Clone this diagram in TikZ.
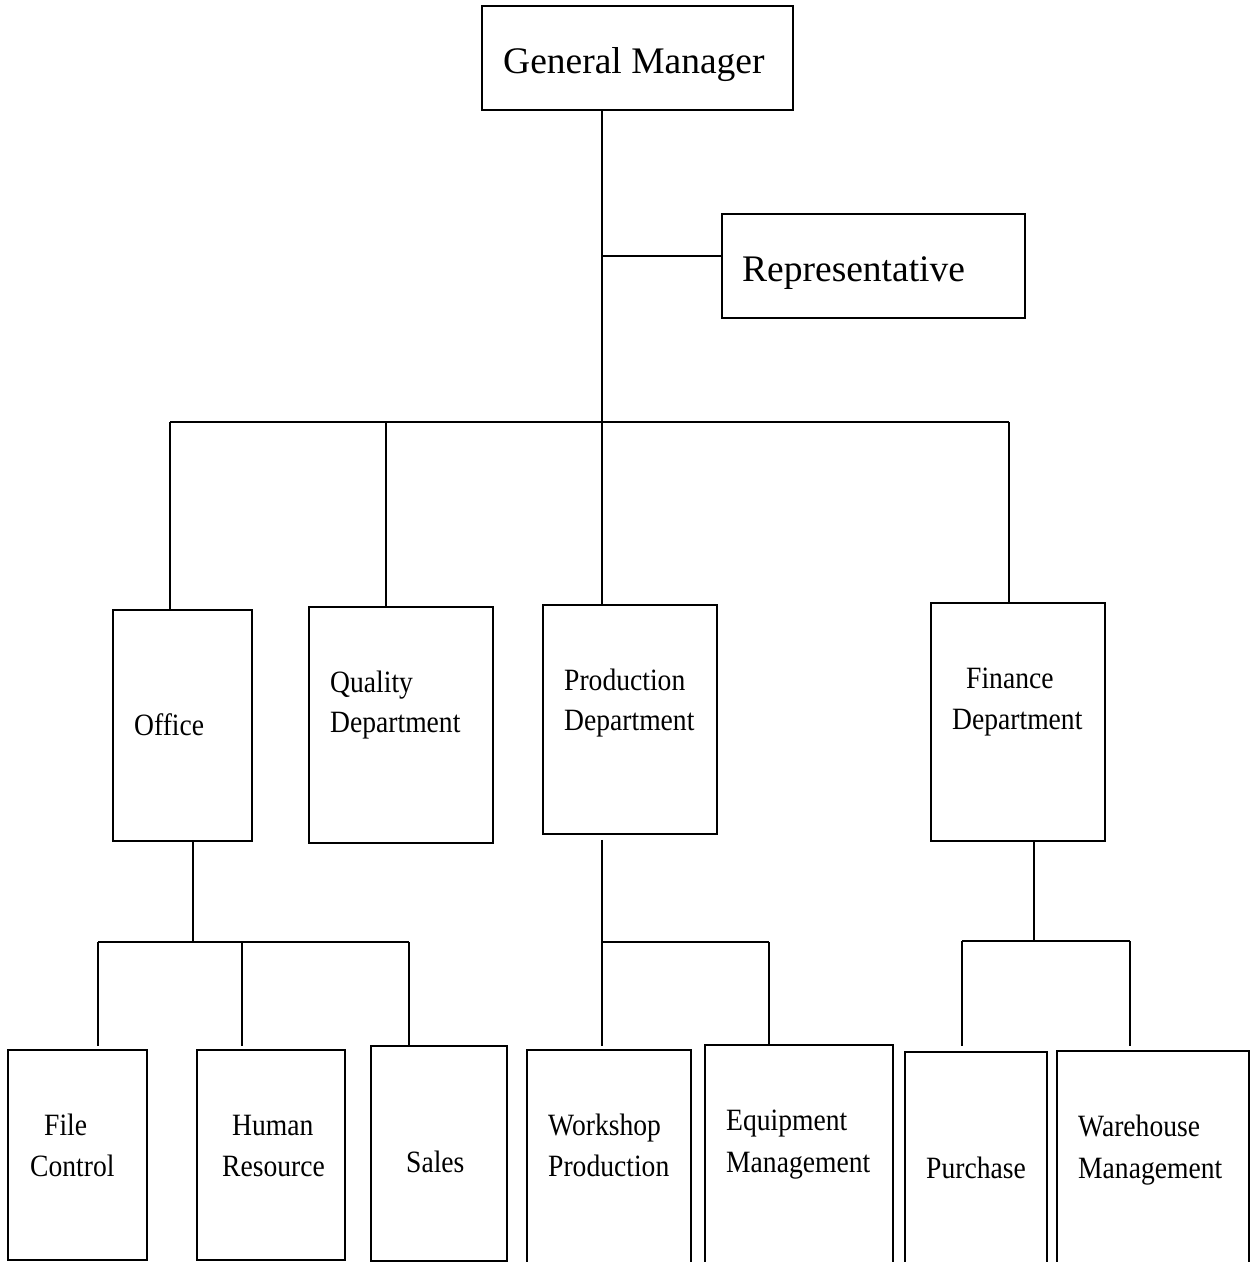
\documentclass[tikz,border=0pt]{standalone}
\usepackage{fontspec}
\setmainfont{Liberation Serif}
\newfontfamily\labfont{Liberation Serif}[FakeStretch=0.89]
\begin{document}
\begin{tikzpicture}[x=1pt,y=-1pt,
  box/.style={draw, line width=1.8pt, rectangle, inner sep=0pt},
  conn/.style={line width=1.8pt},
  bigtxt/.style={inner sep=0pt, anchor=base west, font=\fontsize{37.5}{45}\selectfont},
  lbl/.style={inner sep=0pt, anchor=base west, font=\labfont\fontsize{31}{40}\selectfont}]
\useasboundingbox (0,0) rectangle (1251,1262);
% boxes
\node[box, minimum width=311pt, minimum height=104pt] (gm) at (637.5,58) {};
\node[box, minimum width=303pt, minimum height=104pt] (rep) at (873.5,266) {};
\node[box, minimum width=139pt, minimum height=231pt] (office) at (182.5,725.5) {};
\node[box, minimum width=184pt, minimum height=236pt] (quality) at (401,725) {};
\node[box, minimum width=174pt, minimum height=229pt] (prod) at (630,719.5) {};
\node[box, minimum width=174pt, minimum height=238pt] (fin) at (1018,722) {};
\node[box, minimum width=139pt, minimum height=210pt] (file) at (77.5,1155) {};
\node[box, minimum width=148pt, minimum height=210pt] (human) at (271,1155) {};
\node[box, minimum width=136pt, minimum height=215pt] (sales) at (439,1153.5) {};
\node[box, minimum width=164pt, minimum height=218pt] (work) at (609,1159) {};
\node[box, minimum width=188pt, minimum height=223pt] (equip) at (799,1156.5) {};
\node[box, minimum width=142pt, minimum height=216pt] (purch) at (976,1160) {};
\node[box, minimum width=192pt, minimum height=217pt] (ware) at (1153,1159.5) {};
% texts
\node[bigtxt] (gmT) at (503,73) {General Manager};
\node[bigtxt] (repT) at (742,281) {Representative};
\node[lbl] (officeT) at (134,735) {Office};
\node[lbl] (qualT1) at (330,692) {Quality};
\node[lbl] (qualT2) at (330,732) {Department};
\node[lbl] (prodT1) at (564,690) {Production};
\node[lbl] (prodT2) at (564,730) {Department};
\node[lbl] (finT1) at (966,688) {Finance};
\node[lbl] (finT2) at (952,729) {Department};
\node[lbl] (fileT1) at (44,1135) {File};
\node[lbl] (fileT2) at (30,1176) {Control};
\node[lbl] (humT1) at (232,1135) {Human};
\node[lbl] (humT2) at (222,1176) {Resource};
\node[lbl] (salesT) at (406,1172) {Sales};
\node[lbl] (workT1) at (548,1135) {Workshop};
\node[lbl] (workT2) at (548,1176) {Production};
\node[lbl] (equipT1) at (726,1130) {Equipment};
\node[lbl] (equipT2) at (726,1172) {Management};
\node[lbl] (purchT) at (926,1178) {Purchase};
\node[lbl] (wareT1) at (1078,1136) {Warehouse};
\node[lbl] (wareT2) at (1078,1178) {Management};
% junctions
\coordinate (t) at (602,422);
\coordinate (j1) at (602,256);
\coordinate (b1) at (170,422);
\coordinate (b2) at (386,422);
\coordinate (b4) at (1009,422);
\coordinate (ob) at (193,942);
\coordinate (o1) at (98,942);
\coordinate (o2) at (242,942);
\coordinate (o3) at (409,942);
\coordinate (pb) at (602,942);
\coordinate (p2) at (769,942);
\coordinate (fb) at (1034,941);
\coordinate (f1) at (962,941);
\coordinate (f2) at (1130,941);
% connectors
\draw[conn] (gm.south -| t) -- (t);
\draw[conn] (j1) -- (j1 -| rep.west);
\draw[conn] (b1) -- (b4);
\draw[conn] (b1) -- (b1 |- office.north);
\draw[conn] (b2) -- (b2 |- quality.north);
\draw[conn] (t) -- (t |- prod.north);
\draw[conn] (b4) -- (b4 |- fin.north);
\draw[conn] (ob |- office.south) -- (ob);
\draw[conn] (o1) -- (o3);
\draw[conn, shorten >=3pt] (o1) -- (o1 |- file.north);
\draw[conn, shorten >=3pt] (o2) -- (o2 |- human.north);
\draw[conn] (o3) -- (o3 |- sales.north);
\draw[conn, shorten <=5pt] (pb |- prod.south) -- (pb);
\draw[conn] (pb) -- (p2);
\draw[conn, shorten >=3pt] (pb) -- (pb |- work.north);
\draw[conn] (p2) -- (p2 |- equip.north);
\draw[conn] (fb |- fin.south) -- (fb);
\draw[conn] (f1) -- (f2);
\draw[conn, shorten >=5pt] (f1) -- (f1 |- purch.north);
\draw[conn, shorten >=4pt] (f2) -- (f2 |- ware.north);
\end{tikzpicture}
\end{document}
